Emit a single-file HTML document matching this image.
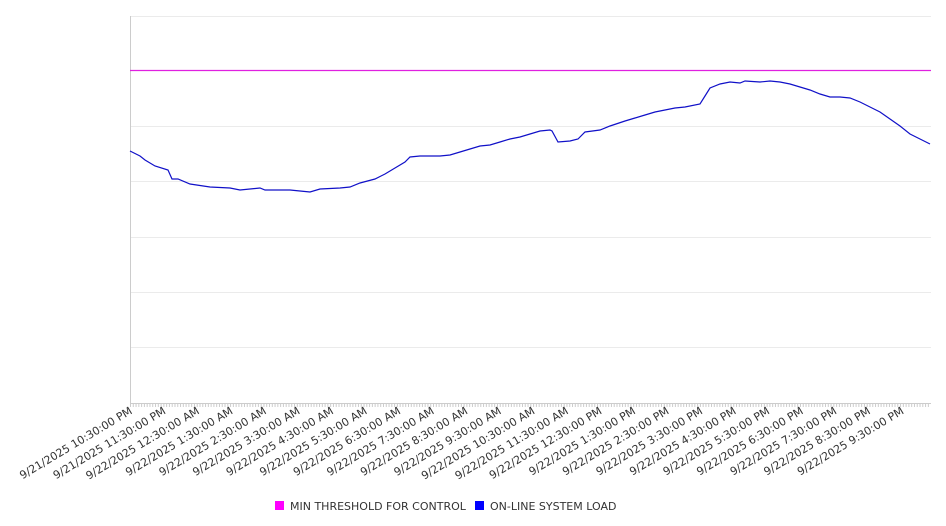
<!DOCTYPE html>
<html><head><meta charset="utf-8"><style>
html,body{margin:0;padding:0;background:#fff;width:946px;height:526px;overflow:hidden}
text{font-family:"DejaVu Sans","Liberation Sans",sans-serif;font-size:11px;fill:#333}
</style></head><body>
<svg width="946" height="526" xmlns="http://www.w3.org/2000/svg">
<g stroke="#ebebeb" stroke-width="1">
<line x1="130" y1="16.5" x2="931" y2="16.5"/>
<line x1="130" y1="126.5" x2="931" y2="126.5"/>
<line x1="130" y1="181.5" x2="931" y2="181.5"/>
<line x1="130" y1="237.5" x2="931" y2="237.5"/>
<line x1="130" y1="292.5" x2="931" y2="292.5"/>
<line x1="130" y1="347.5" x2="931" y2="347.5"/>
</g>
<line x1="130.5" y1="16" x2="130.5" y2="403" stroke="#ccc"/>
<line x1="130" y1="403.5" x2="931" y2="403.5" stroke="#ccc"/>
<g id="ticks" stroke="#ccc"></g>
<line x1="130" y1="70.5" x2="931" y2="70.5" stroke="#e020e0" stroke-width="1.3"/>
<polyline fill="none" stroke="#1010c8" stroke-width="1.2" points="130,151 140,156 145,160 155,166 168,170 172,179 178,179 190,184 210,187 230,188 240,190 260,188 265,190 290,190 300,191 310,192 320,189 340,188 350,187 360,183 375,179 385,174 395,168 405,162 410,157 420,156 440,156 450,155 460,152 470,149 480,146 490,145 500,142 510,139 520,137 530,134 540,131 550,130 552,131 558,142 570,141 578,139 585,132 600,130 610,126 625,121 635,118 645,115 655,112 665,110 675,108 685,107 700,104 705,96 710,88 720,84 730,82 740,83 745,81 760,82 770,81 780,82 790,84 800,87 810,90 820,94 830,97 840,97 850,98 860,102 870,107 880,112 890,119 900,126 910,134 920,139 930,144"/>
<g id="labels"></g>
<rect x="275" y="501" width="9" height="9" fill="#ff00ff"/>
<text x="290" y="510">MIN THRESHOLD FOR CONTROL</text>
<rect x="475" y="501" width="9" height="9" fill="#0000ff"/>
<text x="490" y="510">ON-LINE SYSTEM LOAD</text>
</svg>
<script>
var ns="http://www.w3.org/2000/svg";
var t=document.getElementById("ticks");
for(var i=0;i<=288;i++){var x=130.5+i*2.78;if(x>931)break;var l=document.createElementNS(ns,"line");l.setAttribute("x1",x);l.setAttribute("x2",x);l.setAttribute("y1",403);l.setAttribute("y2",407);t.appendChild(l);}
var hrs=["9/21/2025 10:30:00 PM","9/21/2025 11:30:00 PM"];
var h=["12","1","2","3","4","5","6","7","8","9","10","11"];
for(var i=0;i<12;i++)hrs.push("9/22/2025 "+h[i]+":30:00 AM");
for(var i=0;i<10;i++)hrs.push("9/22/2025 "+h[i]+":30:00 PM");
var g=document.getElementById("labels");
for(var i=0;i<hrs.length;i++){var x=133+i*33.55,y=413;var e=document.createElementNS(ns,"text");e.setAttribute("x",x);e.setAttribute("y",y);e.setAttribute("text-anchor","end");e.setAttribute("transform","rotate(-31 "+x+" "+y+")");e.textContent=hrs[i];g.appendChild(e);}
</script>
</body></html>
